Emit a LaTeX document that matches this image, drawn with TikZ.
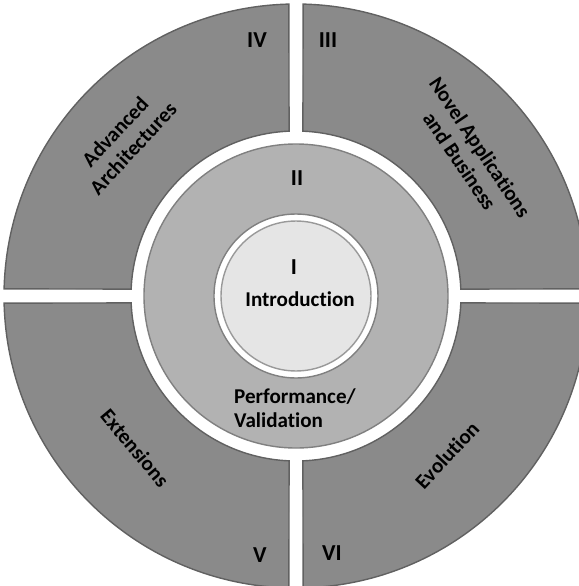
\documentclass[tikz,border=0pt]{standalone}
\usepackage{fontspec}
\setmainfont{Carlito}[Ligatures=NoCommon]

\tikzset{
	quad/.style={fill=black!46, draw=black!62, line width=0.8pt},
	ring/.style={fill=black!30, draw=black!50, line width=0.8pt, even odd rule},
	disc/.style={circle, minimum size=3cm, fill=black!10, draw=black!40, line width=0.8pt},
	lbl/.style={font=\fontsize{12}{14}\selectfont\bfseries, align=center},
	num/.style={font=\fontsize{13}{15}\selectfont\bfseries},
}

\begin{document}
\begin{tikzpicture}[x=0.02cm, y=0.02cm]

	\useasboundingbox (-296, -290) rectangle (283, 296);

	\foreach \b in {0, 90, 180, 270} {
		\draw[quad] (\b+1.4:292) arc[start angle=\b+1.4, end angle=\b+88.6, radius=292]
			-- (\b+87.6:165) arc[start angle=\b+87.6, end angle=\b+2.4, radius=165] -- cycle;
	}

	\draw[ring] (0, 0) circle[radius=152] circle[radius=82];
	\node[disc] (core) at (0, 0) {};

	\node[num] (n1) at (-2, 29) {I};
	\node[lbl] (intro) at (4, -3) {Introduction};
	\node[num] (n2) at (1, 118) {II};
	\node[lbl, align=left] (perf) at (-1, -112) {Performance/\\Validation};

	\node[num] (n3) at (32, 256) {III};
	\node[lbl, rotate=-56] (novel) at (174, 142) {Novel Applications\\and Business};
	\node[num] (n4) at (-39, 256) {IV};
	\node[lbl, rotate=47] (adv) at (-172, 156) {Advanced\\Architectures};
	\node[num] (n5) at (-36, -259) {V};
	\node[lbl, rotate=-50] (ext) at (-161, -152) {Extensions};
	\node[num] (n6) at (36, -257) {VI};
	\node[lbl, rotate=47] (evo) at (151, -159) {Evolution};
\end{tikzpicture}
\end{document}
